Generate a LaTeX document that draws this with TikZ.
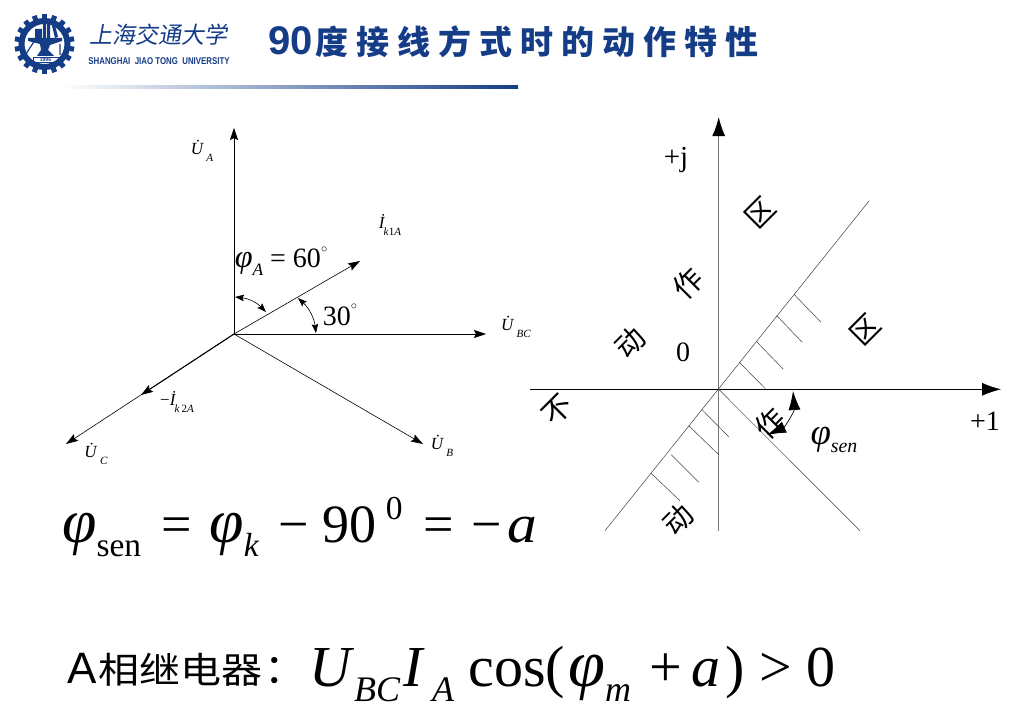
\documentclass[tikz,border=0pt]{standalone}
\usepackage{fontspec}
\usepackage{graphicx}
\setmainfont{Liberation Serif}
\newfontfamily\cjkfont{Noto Sans CJK SC}
\newfontfamily\cjkslant[FakeSlant=.18]{Noto Sans CJK SC}
\newfontfamily\headfont{Liberation Sans}
\usetikzlibrary{arrows.meta}
\definecolor{sjtublue}{RGB}{20,60,135}
\definecolor{axisgray}{RGB}{120,120,120}
\newcommand{\low}[1]{\raisebox{-.27em}{\scalebox{.62}{#1}}}
\newcommand{\lowsmall}[1]{\hspace{-1.5pt}\raisebox{-.42em}{\scalebox{.65}{#1}}}
\newcommand{\vU}{\textit{\.U}}
\newcommand{\vI}{\textit{\.I}}
\newcommand{\phiit}{\scalebox{1.15}{\textit{φ}}}
\newcommand{\degsign}{\raisebox{.55em}{\scalebox{.5}{$\circ$}}}
\tikzset{
  vec/.style={draw=black,line width=.6pt,-{Stealth[length=12pt,width=8pt,inset=2pt]}},
  bothvec/.style={draw=black,line width=.6pt,{Stealth[length=9pt,width=6.5pt,inset=1.5pt]}-{Stealth[length=9pt,width=6.5pt,inset=1.5pt]}},
  axishead/.style={-{Latex[length=19pt,width=13pt,black]}},
  thin line/.style={draw=black!75,line width=.5pt},
  veclabel/.style={font=\fontsize{17}{17}\selectfont,inner sep=0pt},
  biglabel/.style={inner sep=0pt},
  zone/.style={font=\cjkfont\fontsize{29}{29}\selectfont,inner sep=0pt,rotate=45},
  formula/.style={inner sep=0pt,anchor=base west}
}
\begin{document}
\begin{tikzpicture}[x=1pt,y=-1pt]
  \useasboundingbox (0,0) rectangle (1029,717);
  \fill[white] (0,0) rectangle (1029,717);
  % header
  \fill[left color=white,right color=sjtublue,draw=none] (60,86) rectangle (518,89);
  \coordinate (badge) at (44.5,44);
  \foreach \a in {0,20,...,340}
    \fill[sjtublue,rotate around={\a:(badge)}] (42,14) rectangle (47,22);
  \node (logo) at (badge) [circle,draw=sjtublue,line width=6pt,fill=white,minimum size=46pt,inner sep=0pt,outer sep=0pt] {};
  \fill[sjtublue] (35,29) rectangle (42,38) (43,24) rectangle (46,38) (47,24) rectangle (50,38) (52,26) -- (55,25) -- (58,37) -- (55,38) -- cycle;
  \fill[sjtublue] (28,38) -- (62,38) -- (62,41) -- (50,45) -- (48,50) -- (54,56) -- (37,56) -- (41,50) -- (40,44) -- (28,41) -- cycle;
  \draw[sjtublue,line width=1.2pt] (35,40) -- (26,54) (60,44) -- (60,55);
  \node (founded) at (45.5,60) [draw=sjtublue,line width=.8pt,font=\headfont\bfseries\fontsize{5}{5}\selectfont,text=sjtublue,inner sep=.8pt,minimum width=25pt] {1896};
  \node (school) at (158,35) [font=\cjkslant\fontsize{23}{23}\selectfont,text=sjtublue,inner sep=0pt] {上海交通大学};
  \node (schoolen) at (159,61) [font=\headfont\bfseries\fontsize{8.2}{9}\selectfont,text=sjtublue,inner sep=0pt] {\scalebox{.96}[1.2]{SHANGHAI\ \ JIAO TONG\ \ UNIVERSITY}};
  \node (title) at (268,42) [anchor=west,font=\cjkfont\bfseries\fontsize{33}{33}\selectfont,text=sjtublue,inner sep=0pt] {{\headfont\bfseries\fontsize{40}{40}\selectfont 90}\hspace{3pt}度\hspace{8pt}接\hspace{8pt}线\hspace{8pt}方\hspace{8pt}式\hspace{8pt}时\hspace{8pt}的\hspace{8pt}动\hspace{8pt}作\hspace{8pt}特\hspace{8pt}性};
  % voltage phasors
  \coordinate (O) at (234,334);
  \coordinate (UAend) at (234,128);
  \coordinate (UBCend) at (486,334);
  \coordinate (UBend) at (423,444);
  \coordinate (UCend) at (66,444);
  \coordinate (IAend) at (360,261);
  \coordinate (Ikend) at (141,395);
  \draw [vec] (O) -- (UAend);
  \draw [vec] (O) -- (UBCend);
  \draw [vec] (O) -- (UBend);
  \draw [vec] (O) -- (UCend);
  \draw [vec] (O) -- (IAend);
  \draw [vec,line width=1pt] (O) -- (Ikend);
  \coordinate (phiS) at (235,297);
  \coordinate (phiE) at (266,312);
  \draw [bothvec] (phiS) to [bend left=20] (phiE);
  \coordinate (arcS) at (298,298);
  \coordinate (arcE) at (316,333);
  \draw [bothvec] (arcS) to [bend left=20] (arcE);
  \node (UA) at (202,151) [veclabel] {\vU\lowsmall{\textit{A}}};
  \node (UBC) at (516,327) [veclabel] {\vU\lowsmall{\textit{BC}}};
  \node (UB) at (442,446) [veclabel] {\vU\lowsmall{\textit{B}}};
  \node (UC) at (96,454) [veclabel] {\vU\lowsmall{\textit{C}}};
  \node (IkA) at (390,225) [veclabel] {\vI\lowsmall{\textit{k}1\textit{A}}};
  \node (Ik2) at (177,402) [veclabel] {\textminus\vI\lowsmall{\textit{k}\,2\textit{A}}};
  \node (phiA) at (281,261) [font=\fontsize{28}{28}\selectfont,inner sep=0pt] {\phiit\low{\textit{A}} = 60\degsign};
  \node (thirty) at (340,315) [font=\fontsize{28}{28}\selectfont,inner sep=0pt] {30\degsign};
  % complex plane
  \coordinate (C) at (718.7,389.3);
  \coordinate (Ctop) at (718.7,117);
  \coordinate (Cbot) at (718.7,530.7);
  \coordinate (Cleft) at (530,389.3);
  \coordinate (Cright) at (1001,389.3);
  \coordinate (LineNE) at (869,201);
  \coordinate (LineSW) at (605,530.7);
  \coordinate (LineSE) at (860,530.7);
  \draw [draw=axisgray,line width=1.3pt,axishead] (Cbot) -- (Ctop);
  \draw [line width=.8pt,axishead] (Cleft) -- (Cright);
  \draw [thin line] (LineSW) -- (LineNE);
  \draw [thin line] (C) -- (LineSE);
  \foreach \i/\xa/\ya/\xb/\yb in {1/794/294.3/821/322.3,2/776.7/315.7/802.3/342.3,3/756.7/341.7/783.3/369.3,4/739.3/362.3/765.3/388.7,5/701.7/409.3/728.7/436.7,6/689/426/718.3/454.3,7/671.3/454.7/698.7/482.3,8/651/473.3/680/500.7} {
    \coordinate (hatchA\i) at (\xa,\ya);
    \coordinate (hatchB\i) at (\xb,\yb);
    \draw [thin line] (hatchA\i) -- (hatchB\i);
  }
  \coordinate (senS) at (793,391);
  \coordinate (senE) at (767,435);
  \draw [line width=.7pt,{Latex[length=19pt,width=12pt]}-{Latex[length=19pt,width=12pt]}] (senS) to [bend left=35] (senE);
  \node (plusj) at (676,160) [biglabel,font=\fontsize{29}{29}\selectfont] {+j};
  \node (zero) at (683,352) [biglabel,font=\fontsize{28}{28}\selectfont] {0};
  \node (plusone) at (985,421) [biglabel,font=\fontsize{28}{28}\selectfont] {+1};
  \node (phisen) at (834,440) [font=\fontsize{32}{32}\selectfont,inner sep=0pt] {\phiit\low{\textit{sen}}};
  \node (bu) at (558,410) [zone] {不};
  \node (dongA) at (630,343) [zone] {动};
  \node (zuoA) at (688,283) [zone] {作};
  \node (quA) at (760,213) [zone] {区};
  \node (dongB) at (678,520) [zone] {动};
  \node (zuoB) at (770,423) [zone] {作};
  \node (quB) at (865,330) [zone] {区};
  % formulas
  \node (sen) at (62,542) [formula,font=\fontsize{54}{54}\selectfont] {\phiit\low{sen}\hspace{7pt} =\hspace{4pt} \phiit\low{\textit{k}}\hspace{6pt} − 90\hspace{9pt}\raisebox{.42em}{\scalebox{.62}{0}}\hspace{7.5pt} =\hspace{4pt} −\hspace{6pt}\scalebox{1.1}[1]{\textit{a}}};
  \node (relayname) at (67,683) [anchor=base west,font=\headfont\fontsize{44}{44}\selectfont,inner sep=0pt] {A\hspace{2pt}{\cjkfont\fontsize{41}{41}\selectfont\scalebox{1}[.88]{相继电器}\hspace{2pt}：}};
  \node (relay) at (309,686) [formula,font=\fontsize{58}{58}\selectfont] {\textit{U}\low{\textit{BC}}\hspace{3pt}\textit{I}\hspace{7pt}\low{\textit{A}} cos(\hspace{3pt}\phiit\low{\textit{m}}\hspace{4pt} +\hspace{-5pt} \textit{a}\hspace{5pt}) > 0};
\end{tikzpicture}
\end{document}
